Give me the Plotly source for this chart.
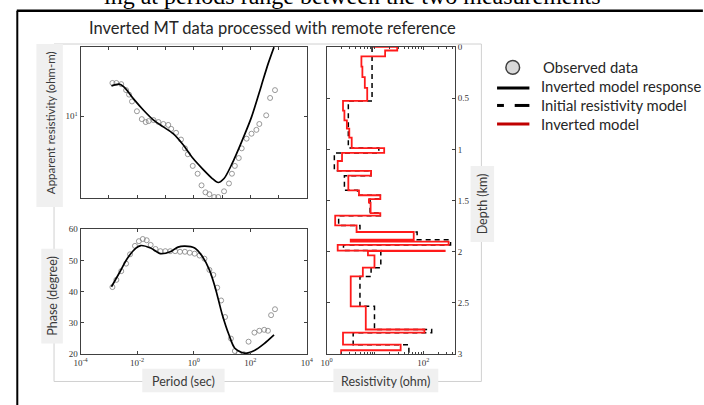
import plotly.graph_objects as go

W, H = 704, 405

# ---------------- data ----------------
# Apparent resistivity (top panel)
rho_curve_period = [0.00124, 0.00234, 0.00349, 0.00774, 0.0172, 0.0381, 0.0845, 0.1876,
                    0.416, 0.923, 2.05, 4.54, 7.33, 11.8, 22.4, 49.6, 110, 244, 427, 688]
rho_curve = [14.3, 14.6, 14.1, 12.2, 10.7, 9.55, 8.81, 8.13, 7.16, 6.10, 5.37, 4.79, 4.57,
             4.79, 5.69, 7.41, 9.89, 14.3, 18.6, 22.6]
rho_obs_period = [0.00134, 0.00185, 0.00275, 0.00409, 0.0052, 0.0066, 0.00984, 0.01466,
                  0.0201, 0.0256, 0.0381, 0.0568, 0.0845, 0.126, 0.16, 0.238, 0.355, 0.489,
                  0.62, 0.923, 1.375, 1.89, 2.6, 3.58, 5.33, 7.33, 11.8, 17.6, 22.4, 28.4,
                  39.1, 49.6, 73.9, 110, 164, 208, 364, 500, 745]
rho_obs = [14.8, 14.8, 14.6, 13.6, 12.9, 11.9, 10.6, 9.66, 9.33, 9.44, 9.55, 9.33, 9.12,
           9.02, 8.61, 8.22, 7.59, 6.84, 6.38, 5.56, 5.07, 4.42, 4.07, 3.98, 3.85, 3.85,
           4.12, 4.52, 5.07, 5.56, 6.10, 6.84, 7.67, 8.13, 8.51, 9.12, 10.1, 12.4, 13.6]

# Phase (bottom panel)
phase_curve_period = [0.00124, 0.00234, 0.00444, 0.00908, 0.0135, 0.0301, 0.0667, 0.148,
                      0.279, 0.489, 1.08, 2.05, 3.58, 5.77, 10.1, 17.6, 28.4, 63.0, 140,
                      310, 688]
phase_curve = [41.6, 46.0, 50.6, 54.0, 54.8, 54.0, 52.2, 52.8, 54.3, 54.6, 54.0, 51.2,
               47.0, 41.3, 32.8, 26.2, 21.9, 20.3, 21.2, 23.4, 26.2]
phase_obs_period = [0.00134, 0.00185, 0.00275, 0.00409, 0.00563, 0.0084, 0.01154, 0.0159,
                    0.0218, 0.0301, 0.0448, 0.0667, 0.0993, 0.148, 0.22, 0.328, 0.489,
                    0.727, 1.08, 1.61, 2.4, 3.58, 4.92, 6.76, 9.31, 12.8, 20.6, 28.4, 39.1,
                    58.2, 86.6, 140, 208, 310, 420, 542, 745]
phase_obs = [41.5, 43.8, 46.6, 49.0, 52.0, 54.7, 56.2, 56.9, 56.5, 55.0, 53.7, 53.0, 53.0,
             53.0, 53.0, 52.8, 52.8, 52.5, 52.2, 51.6, 50.6, 47.0, 45.4, 41.3, 37.2, 31.9,
             25.0, 21.0, 20.3, 20.0, 24.0, 26.9, 27.5, 27.8, 27.5, 32.5, 34.4]

# Resistivity models (right panel): layer tops (km) and resistivity (ohm)
model_top_km = [0.0, 0.035, 0.092, 0.193, 0.295, 0.40, 0.527, 0.622, 0.717, 0.797, 0.886,
                0.988, 1.035, 1.114, 1.21, 1.257, 1.40, 1.448, 1.486, 1.521, 1.622, 1.648,
                1.743, 1.807, 1.883, 1.902, 1.933, 1.988, 1.994, 2.035, 2.155, 2.241, 2.533,
                2.759, 2.790, 2.907, 2.962]
model_res = [28.8, 16.2, 5.25, 5.5, 6.17, 6.92, 2.19, 2.34, 2.63, 2.95, 3.31, 15.5, 2.09,
             1.70, 8.32, 2.82, 4.68, 12.9, 7.5, 8.13, 12.9, 1.51, 4.17, 63.1, 3.16, 331,
             1.70, 275, 7.16, 9.77, 5.62, 3.16, 6.46, 105, 2.19, 33.9, 2.0]
init_top_km = [0.0, 0.527, 0.988, 1.035, 1.21, 1.257, 1.40, 1.448, 1.486, 1.622, 1.648,
               1.743, 1.807, 1.883, 1.933, 1.988, 2.155, 2.241, 2.533, 2.759, 2.790, 2.907]
init_res = [8.71, 2.82, 12.0, 1.45, 8.32, 2.34, 4.37, 12.9, 7.94, 12.9, 1.78, 4.90, 74.1,
            363, 2.24, 13.2, 8.32, 4.90, 9.77, 148, 3.55, 50.1]
max_depth_km = 3.0

period_ticks = [1e-4, 1e-2, 1, 1e2, 1e4]
period_ticktext = ["10<sup>-4</sup>", "10<sup>-2</sup>", "10<sup>0</sup>", "10<sup>2</sup>", "10<sup>4</sup>"]
phase_ticks = [20, 30, 40, 50, 60]
depth_ticks = [0, 0.5, 1, 1.5, 2, 2.5, 3]
depth_ticktext = ["0", "0.5", "1", "1.5", "2", "2.5", "3"]
res_ticks = [1, 100]
res_ticktext = ["10<sup>0</sup>", "10<sup>2</sup>"]

# ---------------- helpers ----------------
def px(x):
    return x / W

def py(y):
    return 1 - y / H

AX = "#404040"
TICKFONT = dict(family="Liberation Serif", size=9, color="#333")
LBL = "#3a3a3a"
SANS = "Lato"

fig = go.Figure()

# top panel
fig.add_trace(go.Scatter(x=rho_obs_period, y=rho_obs, mode="markers", xaxis="x", yaxis="y",
                         marker=dict(symbol="circle-open", size=5, color="#808080",
                                     line=dict(width=0.8)), showlegend=False))
fig.add_trace(go.Scatter(x=rho_curve_period, y=rho_curve, mode="lines", xaxis="x", yaxis="y",
                         line=dict(color="black", width=1.7, shape="spline", smoothing=0.8),
                         showlegend=False))
# bottom panel
fig.add_trace(go.Scatter(x=phase_obs_period, y=phase_obs, mode="markers", xaxis="x2", yaxis="y2",
                         marker=dict(symbol="circle-open", size=5, color="#808080",
                                     line=dict(width=0.8)), showlegend=False))
fig.add_trace(go.Scatter(x=phase_curve_period, y=phase_curve, mode="lines", xaxis="x2", yaxis="y2",
                         line=dict(color="black", width=1.7, shape="spline", smoothing=0.8),
                         showlegend=False))
# right panel
fig.add_trace(go.Scatter(x=init_res + [init_res[-1]], y=init_top_km + [max_depth_km],
                         mode="lines", xaxis="x3", yaxis="y3",
                         line=dict(color="black", width=1.5, shape="vh", dash="5px,4px"),
                         showlegend=False))
fig.add_trace(go.Scatter(x=[init_res[0]] + model_res + [model_res[-1]],
                         y=[0.0] + model_top_km + [max_depth_km],
                         mode="lines", xaxis="x3", yaxis="y3",
                         line=dict(color="#ff1a1a", width=1.8, shape="vh"),
                         showlegend=False))

common = dict(showline=True, linecolor=AX, linewidth=1, mirror="ticks", ticks="inside",
              ticklen=3, tickcolor=AX, showgrid=False, zeroline=False, tickfont=TICKFONT)

minor_res = [m * d for d in [1, 10, 100] for m in range(2, 10)] + [10]

fig.update_layout(
    width=W, height=H, margin=dict(l=0, r=0, t=0, b=0), autosize=False,
    paper_bgcolor="white", plot_bgcolor="white",
    xaxis=dict(domain=[px(75), px(306)], type="log", range=[-4, 4], anchor="y",
               tickvals=[10.0 ** k for k in range(-4, 5)], showticklabels=False, **common),
    yaxis=dict(domain=[py(198), py(43)], type="log", range=[0.58, 1.355], anchor="x",
               tickvals=[10], ticktext=["10<sup>1</sup>"], **common),
    xaxis2=dict(domain=[px(75), px(306)], type="log", range=[-4, 4], anchor="y2",
                tickvals=period_ticks, ticktext=period_ticktext, **common),
    yaxis2=dict(domain=[py(358), py(230)], range=[20, 60], anchor="x2",
                tickvals=phase_ticks, **common),
    xaxis3=dict(domain=[px(326), px(457)], type="log", range=[0, 2.65], anchor="y3",
                tickvals=res_ticks, ticktext=res_ticktext,
                minor=dict(tickvals=minor_res, ticks="inside", ticklen=2, tickcolor=AX),
                **common),
    yaxis3=dict(domain=[py(358), py(43)], range=[3, 0], anchor="x3", side="right",
                tickvals=depth_ticks, ticktext=depth_ticktext, **common),
)

shapes = []
# document border
shapes.append(dict(type="line", xref="paper", yref="paper", x0=px(10.5), x1=px(10.5),
                   y0=py(6), y1=py(410), line=dict(color="black", width=2)))
shapes.append(dict(type="line", xref="paper", yref="paper", x0=px(10), x1=px(710),
                   y0=py(6), y1=py(6), line=dict(color="black", width=2.5)))
# light grey frame
frame = dict(color="#d0d0d0", width=1)
for (x0, y0, x1, y1) in [(48, 40, 484, 40), (48, 40, 48, 386), (48, 386, 484, 386),
                         (484, 40, 484, 386)]:
    shapes.append(dict(type="line", xref="paper", yref="paper", x0=px(x0), x1=px(x1),
                       y0=py(y0), y1=py(y1), line=frame))
# label boxes
for (x0, y0, x1, y1) in [(30, 40, 57, 207), (35, 250, 57, 347), (138, 373, 222, 397),
                         (333, 373, 440, 397), (473, 165, 497, 243)]:
    shapes.append(dict(type="rect", xref="paper", yref="paper", x0=px(x0), x1=px(x1),
                       y0=py(y1), y1=py(y0), fillcolor="#f0f0f0", line=dict(width=0)))
# legend symbols
shapes.append(dict(type="circle", xref="paper", yref="paper", x0=px(509), x1=px(523),
                   y0=py(71), y1=py(57), fillcolor="#d9d9d9", line=dict(color="#404040", width=1.5)))
shapes.append(dict(type="line", xref="paper", yref="paper", x0=px(500), x1=px(533),
                   y0=py(85), y1=py(85), line=dict(color="black", width=3)))
for (a, b) in [(500, 507), (518, 533)]:
    shapes.append(dict(type="line", xref="paper", yref="paper", x0=px(a), x1=px(b),
                       y0=py(103), y1=py(103), line=dict(color="black", width=3)))
shapes.append(dict(type="line", xref="paper", yref="paper", x0=px(500), x1=px(533),
                   y0=py(122), y1=py(122), line=dict(color="#c00000", width=3)))
fig.update_layout(shapes=shapes)

ann = []
def text(x, y, s, size, angle=0, xanchor="center", family=SANS, color=LBL):
    ann.append(dict(x=px(x), y=py(y), xref="paper", yref="paper", text=s, showarrow=False,
                    xanchor=xanchor, yanchor="middle", textangle=angle,
                    font=dict(family=family, size=size, color=color)))

text(270.5, 24, "Inverted MT data processed with remote reference", 16.5, color="#262626")
text(44, 121, "Apparent resistivity (ohm-m)", 11.5, angle=-90)
text(47, 298, "Phase (degree)", 12.5, angle=-90)
text(180, 386, "Period (sec)", 12.5)
text(386, 386, "Resistivity (ohm)", 12.5)
text(486, 204, "Depth (km)", 12.5, angle=-90)
text(545, 64, "Observed data", 14.8, xanchor="left", color="#262626")
text(543, 83, "Inverted model response", 14.8, xanchor="left", color="#262626")
text(543, 103, "Initial resistivity model", 14.8, xanchor="left", color="#262626")
text(543, 122, "Inverted model", 14.8, xanchor="left", color="#262626")
# cut-off body text above the figure
ann.append(dict(x=px(352), y=py(6), xref="paper", yref="paper",
                text="ing at periods range between the two measurements", showarrow=False,
                xanchor="center", yanchor="bottom",
                font=dict(family="Liberation Serif", size=24, color="black")))
fig.update_layout(annotations=ann)

fig.write_html("out.html")
